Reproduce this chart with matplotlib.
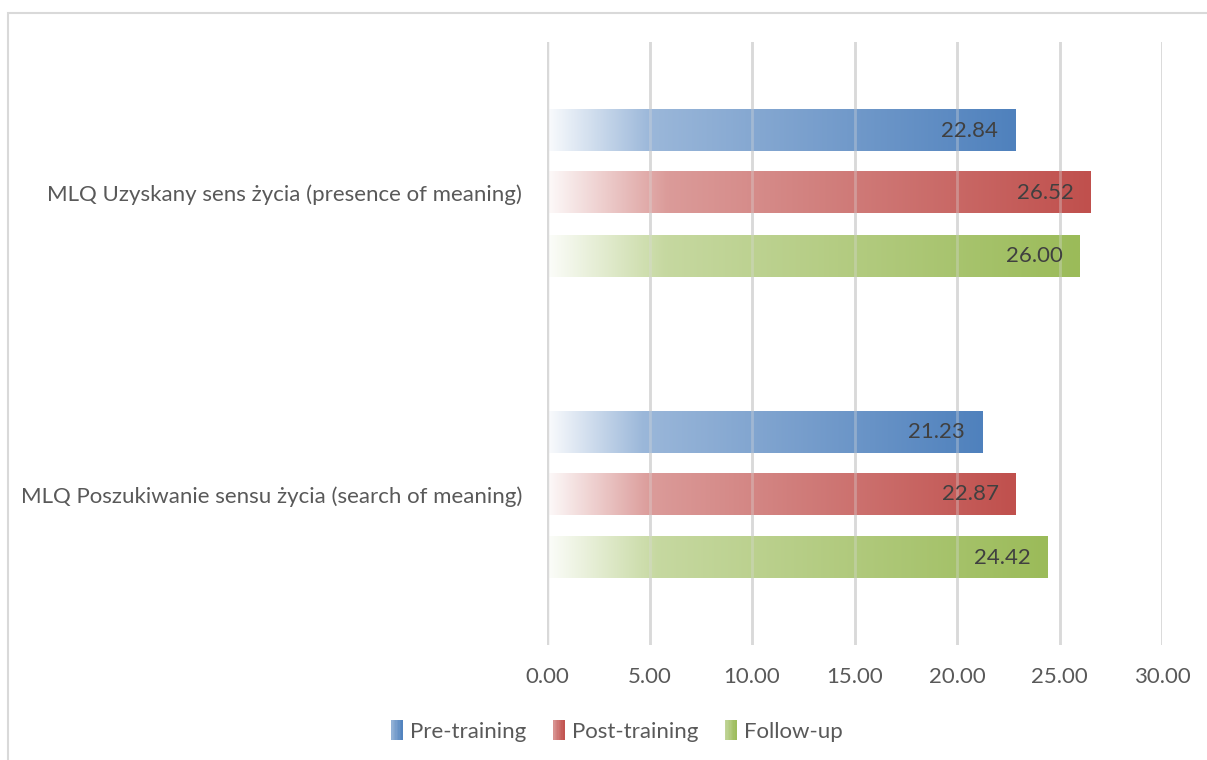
import numpy as np
import matplotlib
matplotlib.use("Agg")
import matplotlib.pyplot as plt
from matplotlib.patches import Rectangle
from matplotlib.legend_handler import HandlerBase
from matplotlib.colors import to_rgb

categories = ["MLQ Uzyskany sens życia (presence of meaning)",
              "MLQ Poszukiwanie sensu życia (search of meaning)"]
series_names = ["Pre-training", "Post-training", "Follow-up"]
pre_training = [22.84, 21.23]
post_training = [26.52, 22.87]
follow_up = [26.00, 24.42]
x_ticks = [0, 5, 10, 15, 20, 25, 30]

series_values = [pre_training, post_training, follow_up]
series_colors = ["#4f81bd", "#c0504d", "#9bbb59"]

plt.rcParams['font.family'] = ['Lato', 'DejaVu Sans']
FS = 16

fig = plt.figure(figsize=(12.07, 7.60), dpi=100)
ax = fig.add_axes([547 / 1207, 1 - 645 / 760, (1162 - 547) / 1207, (645 - 42) / 760])

# chart-area frame
fig.patches.append(Rectangle((8 / 1207, -0.01), 1.1, (760 - 13) / 760 + 0.01,
                             transform=fig.transFigure, fill=False,
                             edgecolor="#d9d9d9", linewidth=1.5))


def ramp(n=256):
    t = np.linspace(0, 1, n)
    return np.where(t < 0.22, 0.03 + (0.57 - 0.03) * t / 0.22,
                    0.57 + (1.0 - 0.57) * (t - 0.22) / 0.78)


def gradient_image(color, n=256):
    c = np.array(to_rgb(color))
    a = ramp(n)[:, None]
    rgb = 1 - a * (1 - c)
    return rgb[None, :, :]


bar_h = 0.136
offsets = [0.205, 0.0, -0.21]
ycenters = [1, 0]

for vals, col, off in zip(series_values, series_colors, offsets):
    img = gradient_image(col)
    for v, yc in zip(vals, ycenters):
        y = yc + off
        ax.imshow(img, extent=[0, v, y - bar_h / 2, y + bar_h / 2],
                  aspect='auto', interpolation='bilinear', zorder=2)
        ax.annotate(f"{v:.2f}", xy=(v, y), xytext=(-17, 0),
                    textcoords='offset pixels',
                    ha='right', va='center', fontsize=FS, color="#404040",
                    zorder=4)

ax.set_xlim(0, 30)
ax.set_ylim(-0.5, 1.5)
ax.set_xticks(x_ticks)
ax.set_xticklabels([f"{t:.2f}" for t in x_ticks], fontsize=FS, color="#595959")
ax.set_yticks(ycenters)
ax.set_yticklabels(categories, fontsize=FS, color="#595959")
ax.tick_params(axis='x', length=0, pad=16)
ax.tick_params(axis='y', length=0, pad=18)

# gridlines: solid behind the bars, faint over them
for t in x_ticks[1:]:
    ax.axvline(t, color="#d9d9d9", linewidth=2, zorder=1)
    ax.axvline(t, color="#d9d9d9", linewidth=2, zorder=3, alpha=0.35)
ax.axvline(0, color="#d9d9d9", linewidth=3.2, zorder=3)
for s in ax.spines.values():
    s.set_visible(False)


class GradientHandler(HandlerBase):
    def create_artists(self, legend, orig_handle, xdescent, ydescent,
                       width, height, fontsize, trans):
        c = np.array(to_rgb(orig_handle.get_facecolor()))
        n = 8
        arts = []
        for i in range(n):
            f = 0.6 + 0.4 * (i + 0.5) / n
            rgb = 1 - f * (1 - c)
            r = Rectangle((-xdescent + width * i / n, -ydescent - 2),
                          width / n + 0.3, height + 4, facecolor=rgb,
                          edgecolor='none', transform=trans)
            arts.append(r)
        return arts


handles = [Rectangle((0, 0), 1, 1, facecolor=c) for c in series_colors]
leg = fig.legend(handles, series_names, loc='center', ncol=3,
                 bbox_to_anchor=(617 / 1207, 1 - 732 / 760), frameon=False,
                 fontsize=FS, labelcolor="#595959",
                 handler_map={Rectangle: GradientHandler()},
                 handlelength=0.5, handleheight=0.65, handletextpad=0.35,
                 columnspacing=1.2)

fig.savefig("out.png", dpi=100, facecolor="white")
